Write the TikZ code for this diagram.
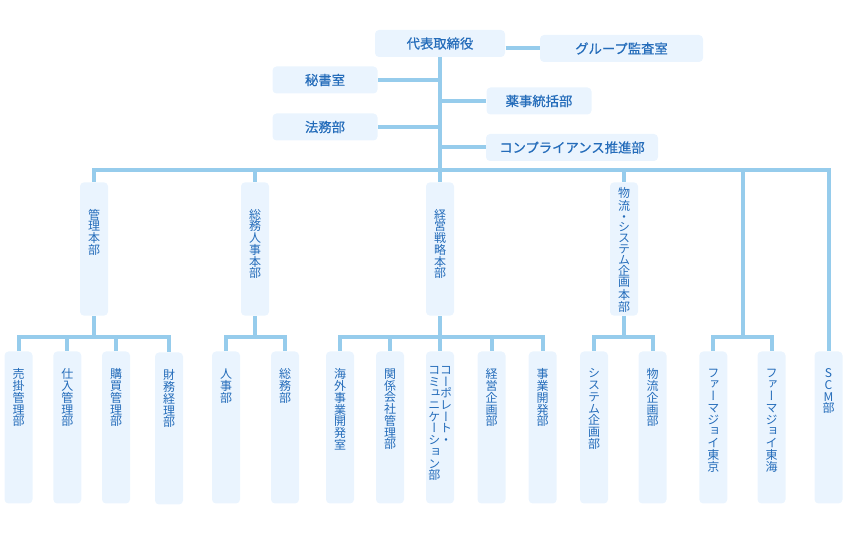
\documentclass[tikz,border=0pt]{standalone}
\usepackage{fontspec}
\setmainfont{Noto Sans CJK JP}
\newfontfamily\yokofont[FakeBold=0.6]{Noto Sans CJK JP}
\newfontfamily\tatefont[RawFeature=+vert]{Noto Sans CJK JP}

\definecolor{orgline}{RGB}{150,204,236}
\definecolor{orgfill}{RGB}{234,244,254}
\definecolor{orgtext}{RGB}{36,108,186}

% vertical writing: one character per line
\makeatletter
\newcommand\tatechars[1]{\def\tate@sep{}\@tfor\tate@c:=#1\do{\tate@sep\tate@c\def\tate@sep{\\}}}
\makeatother
\newcommand\tatelabel[4][8.8]{\parbox[c][#2][t]{21pt}{\vspace*{#3}\centering\tatefont\fontsize{9}{#1}\selectfont #4\par}}

\tikzset{every picture/.style={line width=0.75pt}}
\tikzset{
  orgbox/.style={fill=orgfill, rounded corners=3pt, inner sep=0pt, text=orgtext},
  yokobox/.style={orgbox, minimum height=20.25pt, font=\yokofont\fontsize{10}{12}\selectfont},
  conn/.style={draw=orgline, line width=3pt}
}

\begin{document}
\begin{tikzpicture}[x=0.75pt,y=0.75pt,yscale=-1,xscale=1]
\useasboundingbox (0,0) rectangle (850,548);

%Top boxes
\node[yokobox, minimum width=97.5pt] (ceo) at (440,43.5) {代表取締役};
\node[yokobox, minimum width=122.25pt] (audit) at (621.5,48.5) {グループ監査室};
\node[yokobox, minimum width=78.75pt] (hisho) at (325,80) {秘書室};
\node[yokobox, minimum width=78.75pt] (houmu) at (325,127) {法務部};
\node[yokobox, minimum width=78.75pt] (yakuji) at (539,101) {薬事統括部};
\node[yokobox, minimum width=129pt] (compl) at (572,147.5) {コンプライアンス推進部};

%Divisions
\node[orgbox] (kanri) at (94,249) {\tatelabel{100pt}{20pt}{\tatechars{管理本部}}};
\node[orgbox] (jinji) at (255,249) {\tatelabel{100pt}{20pt}{\tatechars{総務人事本部}}};
\node[orgbox] (senryaku) at (440,249) {\tatelabel{100pt}{20pt}{\tatechars{経営戦略本部}}};
\node[orgbox] (butsuryu) at (624,249) {\tatelabel[8.2]{100pt}{4pt}{\tatechars{物流・システム企画本部}}};

%Departments
\node[orgbox] (urikake) at (18.5,427.5) {\tatelabel{114pt}{13pt}{\tatechars{売掛管理部}}};
\node[orgbox] (shiire) at (67.3,427.5) {\tatelabel{114pt}{13pt}{\tatechars{仕入管理部}}};
\node[orgbox] (koubai) at (116,427.5) {\tatelabel{114pt}{13pt}{\tatechars{購買管理部}}};
\node[orgbox] (zaimu) at (169,428.5) {\tatelabel{114pt}{13pt}{\tatechars{財務経理部}}};
\node[orgbox] (jinjibu) at (226,427.5) {\tatelabel{114pt}{13pt}{\tatechars{人事部}}};
\node[orgbox] (soumubu) at (285,427.5) {\tatelabel{114pt}{13pt}{\tatechars{総務部}}};
\node[orgbox] (kaigai) at (340,427.5) {\tatelabel{114pt}{13pt}{\tatechars{海外事業開発室}}};
\node[orgbox] (kankei) at (390,427.5) {\tatelabel{114pt}{13pt}{\tatechars{関係会社管理部}}};
\node[orgbox] (corp) at (440,427.5) {\tatelabel{114pt}{11pt}{\mbox{\parbox[t]{8.8pt}{\centering\tatechars{コミュニケーション部}}\parbox[t]{8.8pt}{\centering\tatechars{コーポレート・}}}}};
\node[orgbox] (keiei) at (491.5,427.5) {\tatelabel{114pt}{13pt}{\tatechars{経営企画部}}};
\node[orgbox] (jigyou) at (542.7,427.5) {\tatelabel{114pt}{13pt}{\tatechars{事業開発部}}};
\node[orgbox] (system) at (594,427.5) {\tatelabel{114pt}{13pt}{\tatechars{システム企画部}}};
\node[orgbox] (bkikaku) at (652.5,427.5) {\tatelabel{114pt}{13pt}{\tatechars{物流企画部}}};
\node[orgbox] (pjtokyo) at (713.3,427.5) {\tatelabel{114pt}{13pt}{\tatechars{ファーマジョイ東京}}};
\node[orgbox] (pjtokai) at (771.5,427.5) {\tatelabel{114pt}{13pt}{\tatechars{ファーマジョイ東海}}};
\node[orgbox] (scm) at (828.5,427.5) {\tatelabel{114pt}{13pt}{\tatechars{SCM部}}};

%Bus points
\coordinate (bus) at (440,170);
\coordinate (sub) at (0,337.5);
\coordinate (pjbus) at (742.5,337.5);

%Top connectors
\draw[conn] (ceo.east |- audit) -- (audit.west);
\draw[conn] (ceo.south) -- (bus);
\draw[conn] (hisho.east) -- (hisho.east -| bus);
\draw[conn] (houmu.east) -- (houmu.east -| bus);
\draw[conn] (bus |- yakuji) -- (yakuji.west);
\draw[conn] (bus |- compl) -- (compl.west);

%Main bus
\draw[conn] (kanri.north) |- (bus) -| (scm.north);
\draw[conn] (jinji.north) -- (jinji.north |- bus);
\draw[conn] (senryaku.north) -- (bus);
\draw[conn] (butsuryu.north) -- (butsuryu.north |- bus);
\draw[conn] (pjbus |- bus) -- (pjbus);

%Sub buses
\draw[conn] (kanri.south) -- (kanri.south |- sub);
\draw[conn] (urikake.north) |- (zaimu.north |- sub) -- (zaimu.north);
\draw[conn] (shiire.north) -- (shiire.north |- sub);
\draw[conn] (koubai.north) -- (koubai.north |- sub);

\draw[conn] (jinji.south) -- (jinji.south |- sub);
\draw[conn] (jinjibu.north) |- (soumubu.north |- sub) -- (soumubu.north);

\draw[conn] (senryaku.south) -- (corp.north);
\draw[conn] (kaigai.north) |- (jigyou.north |- sub) -- (jigyou.north);
\draw[conn] (kankei.north) -- (kankei.north |- sub);
\draw[conn] (keiei.north) -- (keiei.north |- sub);

\draw[conn] (butsuryu.south) -- (butsuryu.south |- sub);
\draw[conn] (system.north) |- (bkikaku.north |- sub) -- (bkikaku.north);

\draw[conn] (pjtokyo.north) |- (pjbus) -| (pjtokai.north);

\end{tikzpicture}
\end{document}
